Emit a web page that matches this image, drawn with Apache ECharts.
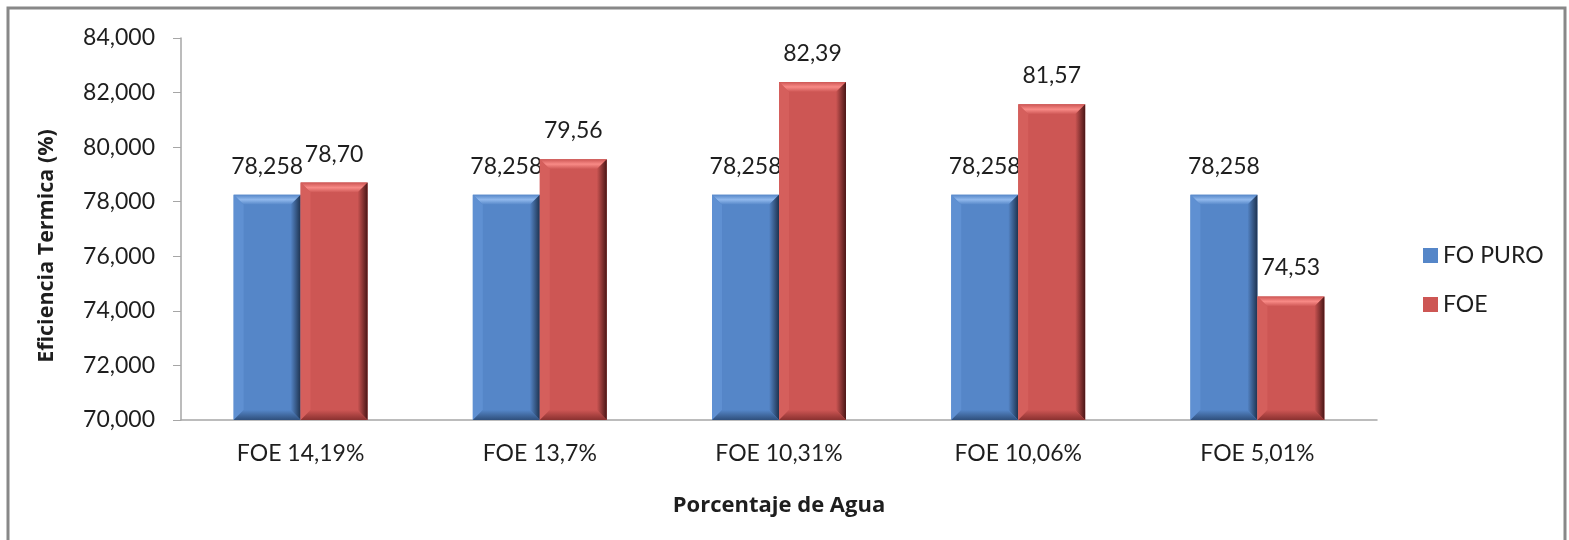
<!DOCTYPE html>
<html>
<head>
<meta charset="utf-8">
<script src="https://cdn.jsdelivr.net/npm/echarts@6/dist/echarts.min.js"></script>
<style>
  html, body { margin: 0; padding: 0; background: #fff; }
  #main { width: 1569px; height: 540px; }
</style>
</head>
<body>
<div id="main"></div>
<script>
// datos
const categories = ['FOE 14,19%', 'FOE 13,7%', 'FOE 10,31%', 'FOE 10,06%', 'FOE 5,01%'];
const foPuro = [78.258, 78.258, 78.258, 78.258, 78.258];
const foe = [78.70, 79.56, 82.39, 81.57, 74.53];
const yTicks = [70, 72, 74, 76, 78, 80, 82, 84];

const FONT = 'Lato, "Open Sans", sans-serif';
const BOLD_FONT = '"Open Sans", sans-serif';
const TXT = '#1e1e1e';

// numero con coma decimal
function fmt(v, d) {
  return v.toFixed(d).replace('.', ',');
}

// barra con bisel, como el estilo de Excel
function bevelBar(colors, side, decimals) {
  return function (params, api) {
    const idx = api.value(0);
    const val = api.value(1);
    const band = api.size([1, 0])[0];
    const w = band * 0.28;
    const top = api.coord([idx, val]);
    const base = api.coord([idx, yTicks[0]]);
    const x0 = side < 0 ? top[0] - w : top[0];
    const x1 = x0 + w;
    const yT = top[1];
    const yB = base[1];
    const b = 10;
    return {
      type: 'group',
      children: [
        { type: 'rect', shape: { x: x0, y: yT, width: w, height: yB - yT }, style: { fill: colors.main } },
        { type: 'polygon', shape: { points: [[x0, yT], [x1, yT], [x1 - b, yT + b], [x0 + b, yT + b]] },
          style: { fill: new echarts.graphic.LinearGradient(0, 0, 0, 1, [
            { offset: 0, color: colors.main }, { offset: 0.5, color: colors.light }, { offset: 1, color: colors.main }]) } },
        { type: 'polygon', shape: { points: [[x0, yT], [x0 + b, yT + b], [x0 + b, yB - b], [x0, yB]] },
          style: { fill: colors.left } },
        { type: 'polygon', shape: { points: [[x1, yT], [x1, yB], [x1 - b, yB - b], [x1 - b, yT + b]] },
          style: { fill: new echarts.graphic.LinearGradient(0, 0, 1, 0, [
            { offset: 0, color: colors.main }, { offset: 1, color: colors.dark }]) } },
        { type: 'polygon', shape: { points: [[x0, yB], [x1, yB], [x1 - b, yB - b], [x0 + b, yB - b]] },
          style: { fill: new echarts.graphic.LinearGradient(0, 0, 0, 1, [
            { offset: 0, color: colors.main }, { offset: 1, color: colors.bottom }]) } },
        { type: 'text', style: { text: fmt(val, decimals), x: (x0 + x1) / 2, y: yT - 17,
          align: 'center', verticalAlign: 'bottom', font: '23px ' + FONT, fill: TXT } }
      ]
    };
  };
}

const blue = { main: '#5586C8', light: '#90B8EC', left: '#5F90D2', dark: '#1E3350', bottom: '#2F4F7C' };
const red = { main: '#CD5654', light: '#F88A86', left: '#D55F5C', dark: '#4A1616', bottom: '#8A3130' };

const chart = echarts.init(document.getElementById('main'));
const option = {
  backgroundColor: '#fff',
  animation: false,
  textStyle: { fontFamily: FONT, color: TXT },
  graphic: [
    { type: 'rect', shape: { x: 8, y: 8, width: 1557, height: 560 },
      style: { fill: 'none', stroke: '#888', lineWidth: 3 } },
    { type: 'text', x: 47, y: 246, rotation: Math.PI / 2,
      style: { text: 'Eficiencia Termica (%)', align: 'center', verticalAlign: 'middle',
        font: 'bold 21.5px ' + BOLD_FONT, fill: TXT } }
  ],
  grid: { left: 181, right: 192, top: 38, bottom: 120 },
  legend: {
    orient: 'vertical',
    left: 1418, top: 239,
    itemWidth: 15, itemHeight: 15, itemGap: 26,
    icon: 'rect',
    textStyle: { fontSize: 23, color: TXT, fontFamily: FONT },
    data: ['FO PURO', 'FOE']
  },
  xAxis: {
    type: 'category',
    data: categories,
    name: 'Porcentaje de Agua',
    nameLocation: 'middle',
    nameGap: 75,
    nameTextStyle: { fontSize: 22, fontWeight: 'bold', color: TXT, fontFamily: BOLD_FONT },
    axisLine: { lineStyle: { color: '#A6A6A6', width: 1.5 } },
    axisTick: { show: false },
    axisLabel: { fontSize: 23, color: TXT, margin: 22 }
  },
  yAxis: {
    type: 'value',
    min: 70, max: 84, interval: 2,
    axisLine: { show: true, lineStyle: { color: '#A6A6A6', width: 1.5 } },
    axisTick: { show: true, length: 8, lineStyle: { color: '#A6A6A6' } },
    splitLine: { show: false },
    axisLabel: { fontSize: 23, color: TXT, margin: 26, formatter: v => fmt(v, 3) }
  },
  series: [
    {
      name: 'FO PURO', type: 'custom',
      itemStyle: { color: blue.main },
      encode: { x: 0, y: 1 },
      data: foPuro.map((v, i) => [i, v]),
      renderItem: bevelBar(blue, -1, 3)
    },
    {
      name: 'FOE', type: 'custom',
      itemStyle: { color: red.main },
      encode: { x: 0, y: 1 },
      data: foe.map((v, i) => [i, v]),
      renderItem: bevelBar(red, 1, 2)
    }
  ]
};
chart.setOption(option);
</script>
</body>
</html>
